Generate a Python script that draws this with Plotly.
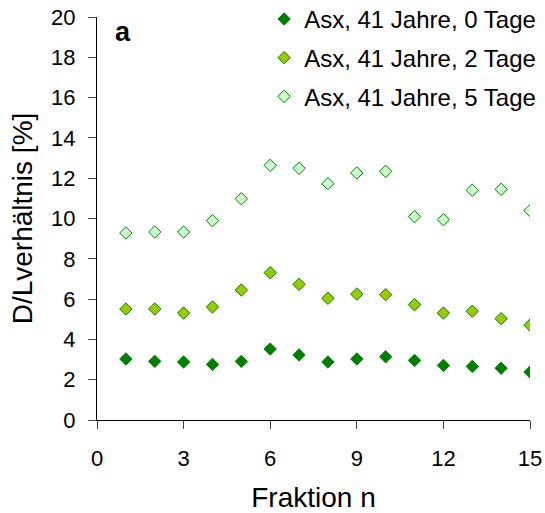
import plotly.graph_objects as go

fraktion = list(range(1, 16))
tage0 = [3.03, 2.91, 2.88, 2.76, 2.91, 3.52, 3.23, 2.88, 3.03, 3.14, 2.96, 2.71, 2.66, 2.57, 2.38]
tage2 = [5.51, 5.51, 5.31, 5.61, 6.45, 7.31, 6.73, 6.04, 6.25, 6.22, 5.72, 5.31, 5.40, 5.03, 4.71]
tage5 = [9.28, 9.33, 9.33, 9.89, 10.98, 12.64, 12.49, 11.73, 12.26, 12.34, 10.09, 9.94, 11.40, 11.45, 10.39]
names = ["Asx, 41 Jahre, 0 Tage", "Asx, 41 Jahre, 2 Tage", "Asx, 41 Jahre, 5 Tage"]
x_ticks = [0, 3, 6, 9, 12, 15]
y_ticks = list(range(0, 21, 2))

fills = ["#008000", "#99CC00", "#CCFFCC"]
fig = go.Figure()
for i, (vals, name) in enumerate(zip([tage0, tage2, tage5], names)):
    fig.add_trace(go.Scatter(
        x=fraktion, y=vals, mode="markers", name=name, legendgroup=str(i),
        marker=dict(symbol="diamond", size=9.5, color=fills[i],
                    line=dict(color="#008000", width=1)),
    ))

font = "Liberation Sans, Arial, sans-serif"
fig.update_layout(
    width=545, height=513,
    margin=dict(l=97, r=15, t=17, b=93, autoexpand=False),
    plot_bgcolor="white", paper_bgcolor="white",
    font=dict(family=font, size=23, color="black"),
    showlegend=True,
    legend=dict(x=0.386, y=1.05, xanchor="left", yanchor="top",
                bgcolor="rgba(0,0,0,0)", font=dict(size=24),
                tracegroupgap=4.5, itemsizing="trace"),
    xaxis=dict(range=[0, 15], tickvals=x_ticks, ticks="outside", ticklen=8,
               tickfont=dict(size=22), ticklabelstandoff=11,
               ticklabeloverflow="allow",
               showline=True, linecolor="black", linewidth=1, showgrid=False,
               zeroline=False, automargin=False,
               title=dict(text="Fraktion n", standoff=25)),
    yaxis=dict(range=[0, 20], tickvals=y_ticks, ticks="outside", ticklen=8,
               tickfont=dict(size=22), ticklabelstandoff=8,
               ticklabeloverflow="allow",
               showline=True, linecolor="black", linewidth=1, showgrid=False,
               zeroline=False, automargin=False,
               title=dict(text="D/Lverhältnis [%]", standoff=10)),
    annotations=[dict(text="<b>a</b>", x=0.06, y=0.9625, xref="paper", yref="paper",
                      showarrow=False, font=dict(size=27), xanchor="center", yanchor="middle")],
)
fig.write_html("out.html", config={"displayModeBar": False},
               post_script="document.body.style.margin='0px';")
